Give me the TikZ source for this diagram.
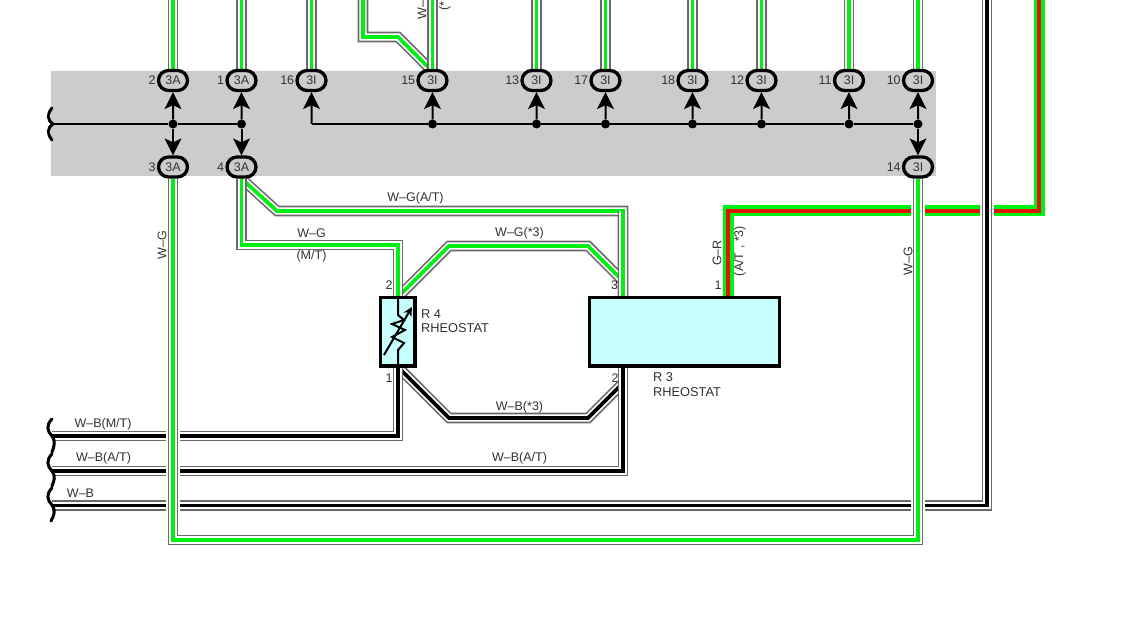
\documentclass[tikz,border=0pt]{standalone}
\usepackage{fontspec}
\setmainfont{Liberation Sans}
\usepackage{tikz}
\usetikzlibrary{arrows.meta,shapes.misc,backgrounds}
\definecolor{wsgreen}{RGB}{0,240,20}
\definecolor{wsred}{RGB}{225,20,0}
\definecolor{wsgray}{RGB}{105,105,105}
\definecolor{wsband}{RGB}{204,204,204}
\definecolor{wscyan}{RGB}{200,255,255}
\definecolor{wstext}{RGB}{50,50,50}
\tikzstyle{wire} = [preaction={draw=wsgray, line width=10.6pt}, preaction={draw=white, line width=7.4pt}, draw=#1, line width=3.8pt]
\tikzstyle{crosswire} = [preaction={draw=white, line width=13.5pt}, wire=#1]
\tikzstyle{grwire} = [preaction={draw=wsgreen, line width=11pt}, draw=wsred, line width=4pt]
\tikzstyle{conn} = [rounded rectangle, minimum width=29pt, minimum height=20pt, inner sep=0pt, draw=black, fill=wsband, line width=3.3pt, text=wstext, font=\fontsize{12.5}{14}\selectfont, label distance=1pt]
\tikzstyle{pinnum} = [inner sep=1pt, text=wstext, font=\fontsize{12.5}{14}\selectfont]
\tikzstyle{wirelbl} = [inner sep=0pt, text=wstext, font=\fontsize{12.5}{14}\selectfont]
\tikzstyle{rheolbl} = [inner sep=0pt, anchor=west, text=wstext, font=\fontsize{12.8}{14}\selectfont]
\tikzstyle{junction} = [circle, fill=black, minimum size=9pt, inner sep=0pt]
\tikzstyle{bus} = [draw=black, line width=2pt]
\tikzstyle{pinarrow} = [bus, -{Stealth[length=17pt, width=17pt, inset=4pt, line width=0pt]}]
\tikzstyle{rheobox} = [rectangle, draw=black, fill=wscyan, line width=3.5pt, inner sep=0pt]
\tikzstyle{breakmark} = [draw=black, line width=3pt, line cap=round]
\begin{document}
\begin{tikzpicture}[x=1pt, y=-1pt]
\useasboundingbox (0,0) rectangle (1131,620);

% Upper connectors
\node (c2) [conn, label={[pinnum]left:2}] at (173,80.5) {3A};
\node (c1) [conn, label={[pinnum]left:1}] at (241.5,80.5) {3A};
\node (c16) [conn, label={[pinnum]left:16}] at (311.5,80.5) {3I};
\node (c15) [conn, label={[pinnum]left:15}] at (432.5,80.5) {3I};
\node (c13) [conn, label={[pinnum]left:13}] at (536.5,80.5) {3I};
\node (c17) [conn, label={[pinnum]left:17}] at (605.5,80.5) {3I};
\node (c18) [conn, label={[pinnum]left:18}] at (692.5,80.5) {3I};
\node (c12) [conn, label={[pinnum]left:12}] at (761.5,80.5) {3I};
\node (c11) [conn, label={[pinnum]left:11}] at (849,80.5) {3I};
\node (c10) [conn, label={[pinnum]left:10}] at (918,80.5) {3I};

% Lower connectors
\node (c3) [conn, label={[pinnum]left:3}] at (173,167) {3A};
\node (c4) [conn, label={[pinnum]left:4}] at (241.5,167) {3A};
\node (c14) [conn, label={[pinnum]left:14}] at (918,167) {3I};

% Rheostats
\node (r4) [rheobox, minimum width=34.2pt, minimum height=68.5pt] at (397.8,331.8) {};
\node (r3) [rheobox, minimum width=190pt, minimum height=68.5pt] at (684.5,331.8) {};
\coordinate (r4top) at (398,297);
\coordinate (r4bot) at (398,367);
\coordinate (r3topw) at (623,297);
\coordinate (r3botw) at (623,367);
\coordinate (r3topg) at (728,297);

% Bus junctions
\node (j2) [junction] at (173,124) {};
\node (j1) [junction] at (241.5,124) {};
\node (j15) [junction] at (432.5,124) {};
\node (j13) [junction] at (536.5,124) {};
\node (j17) [junction] at (605.5,124) {};
\node (j18) [junction] at (692.5,124) {};
\node (j12) [junction] at (761.5,124) {};
\node (j11) [junction] at (849,124) {};
\node (j10) [junction] at (918,124) {};
\coordinate (busleft) at (53,124);
\coordinate (buscorner) at (311.5,124);

% Bus lines and pin arrows
\draw[bus] (busleft) -- (j2) -- (j1);
\draw[bus] (buscorner) -- (j15) -- (j13) -- (j17) -- (j18) -- (j12) -- (j11) -- (j10);
\draw[pinarrow] (j2) -- (c2);
\draw[pinarrow] (j1) -- (c1);
\draw[pinarrow] (buscorner) -- (c16);
\draw[pinarrow] (j15) -- (c15);
\draw[pinarrow] (j13) -- (c13);
\draw[pinarrow] (j17) -- (c17);
\draw[pinarrow] (j18) -- (c18);
\draw[pinarrow] (j12) -- (c12);
\draw[pinarrow] (j11) -- (c11);
\draw[pinarrow] (j10) -- (c10);
\draw[pinarrow] (j2) -- (c3);
\draw[pinarrow] (j1) -- (c4);
\draw[pinarrow] (j10) -- (c14);

% Break marks
\draw[breakmark] (52,108) .. controls (47,114) and (47,120) .. (53,124) .. controls (47,128) and (47,134) .. (52,140);
\draw[breakmark] (52,419) .. controls (46,425) and (47,431) .. (52,436) .. controls (56,441) and (54,447) .. (52,452);
\draw[breakmark] (52,454) .. controls (46,460) and (47,466) .. (52,471) .. controls (56,476) and (54,481) .. (52,486);
\draw[breakmark] (52,488) .. controls (46,494) and (47,500) .. (52,505) .. controls (56,510) and (54,516) .. (51,521);

% Rheostat symbol
\draw[line width=2pt, line join=miter] (r4top) -- (398,315) -- (404,320) -- (392,324) -- (405,330) -- (392,337) -- (404,343) -- (398,350) -- (r4bot);
\draw[line width=2pt, -{Stealth[length=9pt, width=9pt]}] (384,355) -- (412,307);

% Wires behind the connectors
\begin{scope}[on background layer]
\fill[wsband] (51,71) rectangle (935.5,176);

% Top wires
\coordinate (t2) at (173,0);
\coordinate (t1) at (241.5,0);
\coordinate (t16) at (311.5,0);
\coordinate (t15) at (432.5,0);
\coordinate (t15b) at (363,0);
\coordinate (t13) at (536.5,0);
\coordinate (t17) at (605.5,0);
\coordinate (t18) at (692.5,0);
\coordinate (t12) at (761.5,0);
\coordinate (t11) at (849,0);
\coordinate (t10) at (918,0);
\draw[wire=wsgreen] (t15b) -- (363,37) -- (398,37) -- (432.5,71.5);
\draw[wire=wsgreen] (t2) -- (c2.north);
\draw[wire=wsgreen] (t1) -- (c1.north);
\draw[wire=wsgreen] (t16) -- (c16.north);
\draw[wire=wsgreen] (t15) -- (c15.north);
\draw[wire=wsgreen] (t13) -- (c13.north);
\draw[wire=wsgreen] (t17) -- (c17.north);
\draw[wire=wsgreen] (t18) -- (c18.north);
\draw[wire=wsgreen] (t12) -- (c12.north);
\draw[wire=wsgreen] (t11) -- (c11.north);
\draw[wire=wsgreen] (t10) -- (c10.north);

% G-R wire
\coordinate (t3) at (1039,0);
\draw[grwire] (r3topg) -- (728,211) -- (1039,211) -- (t3);

% W-G to the rheostats
\draw[wire=wsgreen] (c4.south) -- (277,211) -- (623,211) -- (r3topw);
\draw[wire=wsgreen] (r4top) -- (449,246) -- (588,246) -- (623,281);
\draw[wire=wsgreen] (c4.south) -- (241.5,245) -- (398,245) -- (r4top);
\draw[wire=wsgreen] (623,211) -- (r3topw);

% W-B from the rheostats
\coordinate (w1) at (52,436);
\coordinate (w2) at (52,471);
\coordinate (w3) at (52,505.5);
\coordinate (t4) at (987,0);
\draw[wire=black] (r4bot) -- (449,418) -- (588,418) -- (623,383);
\draw[wire=black] (r4bot) -- (398,436) -- (w1);
\draw[wire=black] (r3botw) -- (623,471) -- (w2);
\draw[crosswire=black] (w3) -- (987,505.5) -- (t4);

% W-G loop
\draw[crosswire=wsgreen] (c3.south) -- (173,540) -- (918,540) -- (c14.south);
\end{scope}

% Wire labels
\node (lbwgat) [wirelbl] at (415.5,198) {W–G(A/T)};
\node (lbwg) [wirelbl] at (311.5,233) {W–G};
\node (lbmt) [wirelbl] at (311.5,256) {(M/T)};
\node (lbwgs) [wirelbl] at (519.5,233) {W–G(*3)};
\node (lbwbs) [wirelbl] at (519.5,407) {W–B(*3)};
\node (lbwbmt) [wirelbl] at (103,424) {W–B(M/T)};
\node (lbwbat) [wirelbl] at (103.5,458) {W–B(A/T)};
\node (lbwb) [wirelbl] at (80.5,493) {W–B};
\node (lbwbat2) [wirelbl] at (519.5,458) {W–B(A/T)};
\node (lbwgl) [wirelbl, rotate=90] at (162,245) {W–G};
\node (lbwgr) [wirelbl, rotate=90] at (908,261) {W–G};
\node (lbgr) [wirelbl, rotate=90] at (717,253) {G–R};
\node (lbgrat) [wirelbl, rotate=90] at (740,251) {(A/T , *3)};
\node (lbtopw) [wirelbl, rotate=90, anchor=west] at (422,19.5) {W–};
\node (lbtops) [wirelbl, rotate=90, anchor=west] at (445,11) {(*};

% Pin numbers and rheostat names
\node (pr42) [pinnum] at (389,285) {2};
\node (pr41) [pinnum] at (389,378) {1};
\node (pr33) [pinnum] at (614.5,285) {3};
\node (pr32) [pinnum] at (615,378) {2};
\node (pr31) [pinnum] at (718,285) {1};
\node (r4name) [rheolbl] at (421,314) {R 4};
\node (r4kind) [rheolbl] at (421,328) {RHEOSTAT};
\node (r3name) [rheolbl] at (653,377) {R 3};
\node (r3kind) [rheolbl] at (653,392) {RHEOSTAT};
\end{tikzpicture}
\end{document}
